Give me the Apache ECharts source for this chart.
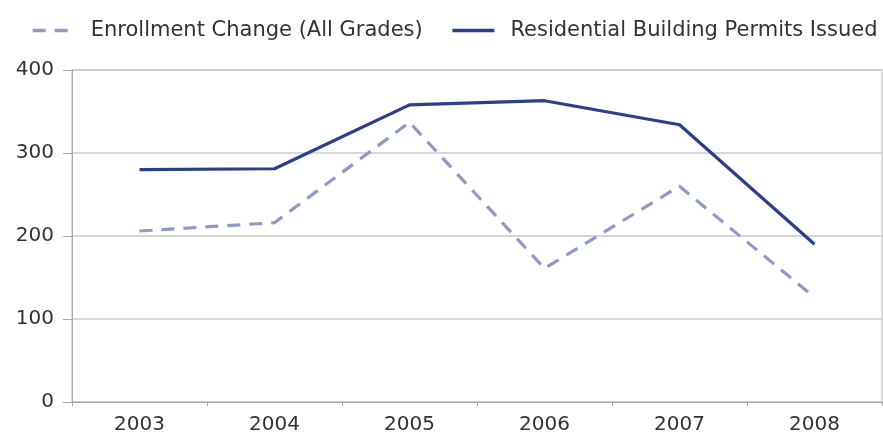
<!DOCTYPE html>
<html>
<head>
<meta charset="utf-8">
<script src="https://cdn.jsdelivr.net/npm/echarts@6/dist/echarts.min.js"></script>
<style>
  html, body { margin: 0; padding: 0; background: #fff; }
  #chart { width: 883px; height: 438px; }
</style>
</head>
<body>
<div id="chart"></div>
<script>
// Years on the category axis
const years = ['2003', '2004', '2005', '2006', '2007', '2008'];
// Change in enrollment across all grades
const enrollmentChange = [206, 216, 337, 161, 260, 126];
// Residential building permits issued per year
const buildingPermits = [280, 281, 358, 363, 334, 190];
// Value axis ticks
const yTicks = [0, 100, 200, 300, 400];

const FONT = 'DejaVu Sans';
const chart = echarts.init(document.getElementById('chart'), null, { renderer: 'canvas' });

chart.setOption({
  animation: false,
  backgroundColor: '#ffffff',
  textStyle: { fontFamily: FONT },
  legend: {
    left: 26,
    top: 15,
    itemWidth: 42,
    itemHeight: 14,
    itemGap: 28,
    // legend keys show only the line, no marker
    itemStyle: { opacity: 0 },
    lineStyle: { width: 3.4 },
    textStyle: { fontFamily: FONT, fontSize: 21, color: '#333', padding: [0, 0, 0, 11] },
    data: ['Enrollment Change (All Grades)', 'Residential Building Permits Issued']
  },
  grid: {
    left: 72, right: 1, top: 70, bottom: 36,
    show: true, borderColor: '#b8b8b8', borderWidth: 1
  },
  xAxis: {
    type: 'category',
    data: years,
    boundaryGap: true,
    axisLine: { lineStyle: { color: '#a8a8a8', width: 1 } },
    axisTick: { show: true, length: 4, lineStyle: { color: '#a8a8a8' } },
    axisLabel: { fontFamily: FONT, fontSize: 20, color: '#333', margin: 13 }
  },
  yAxis: {
    type: 'value',
    min: yTicks[0],
    max: yTicks[yTicks.length - 1],
    interval: 100,
    axisLine: { show: true, lineStyle: { color: '#a8a8a8', width: 1 } },
    axisTick: { show: true, length: 9, inside: false, lineStyle: { color: '#a8a8a8' } },
    splitLine: { lineStyle: { color: '#c8c8c8', width: 1.5 } },
    axisLabel: { fontFamily: FONT, fontSize: 20, color: '#333', margin: 18 }
  },
  series: [
    {
      name: 'Enrollment Change (All Grades)',
      type: 'line',
      data: enrollmentChange,
      symbol: 'none',
      lineStyle: { color: '#8d98cc', width: 3.2, type: [13, 9] },
      itemStyle: { color: '#8d98cc' }
    },
    {
      name: 'Residential Building Permits Issued',
      type: 'line',
      data: buildingPermits,
      symbol: 'none',
      lineStyle: { color: '#2c3f8f', width: 3.2 },
      itemStyle: { color: '#2c3f8f' }
    }
  ]
});
</script>
</body>
</html>
